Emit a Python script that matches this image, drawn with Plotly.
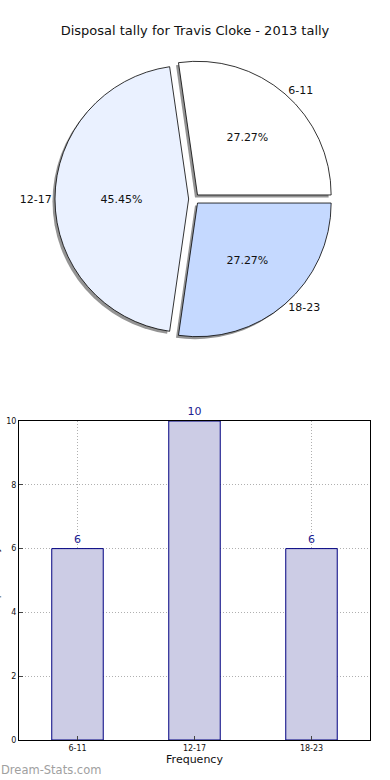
import plotly.graph_objects as go

categories = ["6-11", "12-17", "18-23"]
counts = [6, 10, 6]
pie_colors = ["#FFFFFF", "#EAF1FF", "#C5D9FF"]
title_text = "Disposal tally for Travis Cloke - 2013 tally"
y_ticks = [0, 2, 4, 6, 8, 10]

W, H = 390, 780
def px_x(a, b):
    return [a / W, b / W]
def px_y(top, bottom):
    return [1 - bottom / H, 1 - top / H]

# first slice should start at 3 o'clock and run counterclockwise
rotation = 90 - 360 * counts[0] / sum(counts)

cx, cy, half = 194, 199, 139
pull = 0.04
dom_x = px_x(cx - half, cx + half)
dom_y = px_y(cy - half, cy + half)
sh = 2.5
sh_x = px_x(cx - half - sh, cx + half - sh)
sh_y = px_y(cy - half + sh, cy + half + sh)

common = dict(labels=categories, values=counts, sort=False,
              direction="counterclockwise", rotation=rotation, pull=pull)

fig = go.Figure()
# shadow
fig.add_trace(go.Pie(
    **common, domain=dict(x=sh_x, y=sh_y),
    marker=dict(colors=["rgba(90,90,90,0.65)"] * 3, line=dict(width=0)),
    textinfo="none", hoverinfo="skip", showlegend=False))
# slices with percent
fig.add_trace(go.Pie(
    **common, domain=dict(x=dom_x, y=dom_y),
    marker=dict(colors=pie_colors, line=dict(color="#000000", width=0.8)),
    texttemplate="%{percent:.2%}", textposition="inside", insidetextorientation="horizontal",
    textfont=dict(family="DejaVu Sans", size=11, color="#111111"),
    showlegend=False))
# outside labels
fig.add_trace(go.Pie(
    **common, domain=dict(x=dom_x, y=dom_y),
    marker=dict(colors=["rgba(0,0,0,0)"] * 3, line=dict(width=0)),
    textinfo="label", textposition="outside",
    textfont=dict(family="DejaVu Sans", size=11, color="#111111"),
    hoverinfo="skip", showlegend=False))

fig.add_trace(go.Bar(
    x=categories, y=counts, width=0.44,
    marker=dict(color="#CCCCE5", line=dict(color="#000080", width=1)),
    text=[str(c) for c in counts], textposition="outside",
    textfont=dict(family="DejaVu Sans", size=11, color="#202090"),
    cliponaxis=False, showlegend=False, xaxis="x", yaxis="y"))

grid = dict(showgrid=True, gridcolor="#B0B0B0", griddash="1px,2px", gridwidth=1)

fig.update_layout(
    width=W, height=H, margin=dict(l=0, r=0, t=0, b=0),
    paper_bgcolor="white", plot_bgcolor="white",
    title=dict(text=title_text, x=0.5, xanchor="center", y=1 - 30 / H, yanchor="middle",
               font=dict(family="DejaVu Sans", size=13, color="#111111")),
    xaxis=dict(domain=px_x(19, 370), range=[-0.5, 2.5], showline=True, mirror=True,
               linecolor="black", linewidth=1, ticks="inside", ticklen=4, **grid,
               tickfont=dict(family="DejaVu Sans", size=8, color="#111111"),
               title=dict(text="Frequency", standoff=2,
                          font=dict(family="DejaVu Sans", size=11, color="#111111")),
               automargin=False),
    yaxis=dict(domain=px_y(421, 740), range=[0, 10], tickvals=y_ticks, showline=True,
               mirror=True, linecolor="black", linewidth=1, ticks="inside", ticklen=4,
               **grid, zeroline=False,
               tickfont=dict(family="DejaVu Sans", size=8, color="#111111"),
               automargin=False),
    annotations=[
        dict(text="Dream-Stats.com", xref="paper", yref="paper",
             x=-1 / W, y=1 - 770 / H, xanchor="left", yanchor="middle",
             showarrow=False,
             font=dict(family="DejaVu Sans", size=11.5, color="#A0A0A0")),
        dict(text="Disposal Tally", xref="paper", yref="paper", textangle=-90,
             x=-5 / W, y=1 - 580 / H, xanchor="center", yanchor="middle",
             showarrow=False,
             font=dict(family="DejaVu Sans", size=10, color="#111111")),
    ],
)

fig.write_html("out.html", post_script="document.body.style.margin='0';",
               config={"displayModeBar": False})
